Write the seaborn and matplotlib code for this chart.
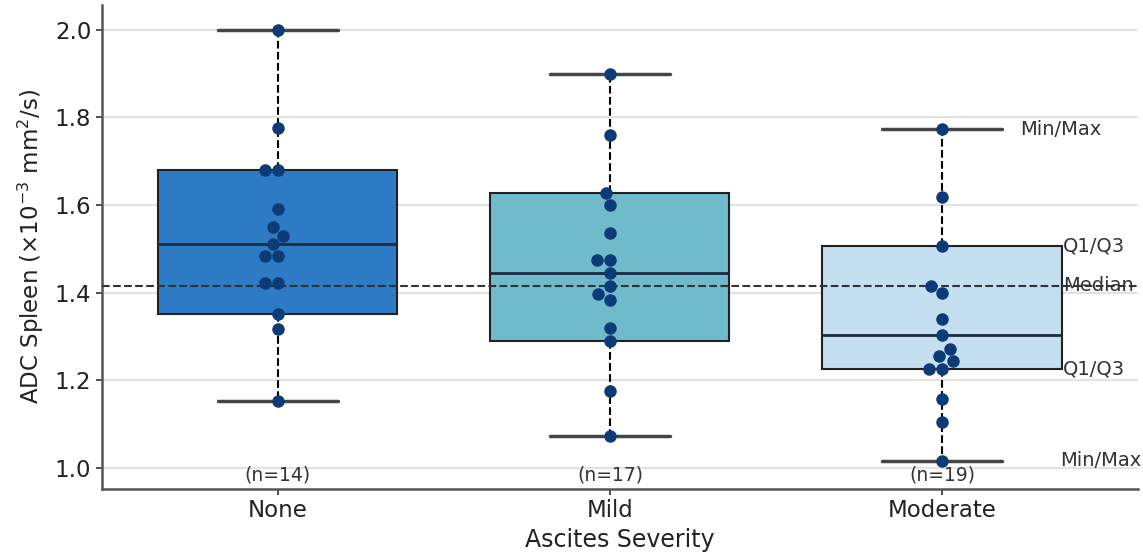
import numpy as np
import pandas as pd
import matplotlib
matplotlib.use("Agg")
import matplotlib.pyplot as plt
import seaborn as sns

# Severity groups and their sample sizes
categories = ["None", "Mild", "Moderate"]
n_per_group = [14, 17, 19]

# Five-number summaries per group: min, Q1, median, Q3, max
summary_none = [1.153, 1.352, 1.510, 1.681, 2.000]
summary_mild = [1.072, 1.289, 1.445, 1.628, 1.899]
summary_moderate = [1.016, 1.226, 1.302, 1.506, 1.773]

# Individual ADC measurements (x10^-3 mm^2/s)
points_none = [2.000, 1.776, 1.681, 1.681, 1.590, 1.550, 1.530, 1.510,
               1.483, 1.483, 1.422, 1.422, 1.352, 1.317, 1.153]
points_mild = [1.899, 1.760, 1.628, 1.601, 1.536, 1.475, 1.475, 1.445,
               1.416, 1.397, 1.384, 1.319, 1.289, 1.176, 1.072]
points_moderate = [1.773, 1.619, 1.506, 1.416, 1.399, 1.340, 1.302, 1.272,
                   1.254, 1.243, 1.226, 1.226, 1.156, 1.104, 1.016]

# Overall median reference
overall_median = 1.415

box_colors = ["#2d7bc4", "#6fbacb", "#c3dff0"]
point_color = "#0c3b78"

summaries = [summary_none, summary_mild, summary_moderate]
points = [points_none, points_mild, points_moderate]

df_box = pd.DataFrame(
    [(c, v) for c, s in zip(categories, summaries) for v in s],
    columns=["severity", "adc"],
)
df_pts = pd.DataFrame(
    [(c, v) for c, p in zip(categories, points) for v in p],
    columns=["severity", "adc"],
)

sns.set_theme(style="ticks")
plt.rcParams["font.family"] = ["DejaVu Sans"]

fig, ax = plt.subplots(figsize=(11.43, 5.53), dpi=100)
fig.subplots_adjust(left=0.089, right=0.9956, bottom=0.1157, top=0.991)

ax.yaxis.grid(True, color="#e2e2e2", linewidth=1.5)
ax.set_axisbelow(True)

box_width = 0.72
sns.boxplot(
    data=df_box, x="severity", y="adc", hue="severity", order=categories,
    hue_order=categories, palette=box_colors, legend=False, saturation=1,
    width=box_width, whis=np.inf, linecolor="#222222", linewidth=1.5,
    boxprops={"edgecolor": "#222222", "linewidth": 1.5},
    whiskerprops={"color": "black", "linestyle": "--", "linewidth": 1.5},
    capprops={"color": "#454545", "linewidth": 2.5},
    medianprops={"color": "#1b2b42", "linewidth": 2},
    ax=ax,
)

ax.axhline(overall_median, color="#333333", linestyle="--", linewidth=1.5,
           zorder=2.6)

sns.swarmplot(
    data=df_pts, x="severity", y="adc", order=categories,
    color=point_color, size=9, zorder=3, ax=ax,
)

# Sample-size labels under each group
for i, n in enumerate(n_per_group):
    ax.text(i, 0.982, f"(n={n})", ha="center", va="center",
            fontsize=13.5, color="#333333", zorder=4)

# Legend-style annotations beside the last box
last = len(categories) - 1
lo, q1, med, q3, hi = summary_moderate
note_kw = dict(ha="left", va="center", fontsize=14, color="#333333",
               clip_on=False)
ax.text(last + box_width / 4 + 0.056, hi, "Min/Max", **note_kw)
ax.text(last + box_width / 2 + 0.004, q3, "Q1/Q3", **note_kw)
ax.text(last + box_width / 2 + 0.004, overall_median, "Median", **note_kw)
ax.text(last + box_width / 2 + 0.004, q1, "Q1/Q3", **note_kw)
ax.text(last + box_width / 2 - 0.003, lo, "Min/Max", **note_kw)

ax.set_xlim(-0.53, 2.59)
ax.set_ylim(0.951, 2.057)
ax.set_yticks([1.0, 1.2, 1.4, 1.6, 1.8, 2.0])
ax.set_yticklabels([f"{t:.1f}" for t in [1.0, 1.2, 1.4, 1.6, 1.8, 2.0]])

ax.set_xlabel("Ascites Severity", fontsize=17, color="#222222", labelpad=4)
ax.set_ylabel(r"ADC Spleen ($\times$10$^{-3}$ mm$^{2}$/s)", fontsize=16.5,
              color="#222222", labelpad=6)
ax.tick_params(axis="both", labelsize=16.5, colors="#333333", length=4,
               width=1.2)
ax.tick_params(axis="both", labelcolor="#222222")

sns.despine(ax=ax)
for side in ["left", "bottom"]:
    ax.spines[side].set_color("#555555")
    ax.spines[side].set_linewidth(1.8)

fig.savefig("out.png", dpi=100, facecolor="white")
